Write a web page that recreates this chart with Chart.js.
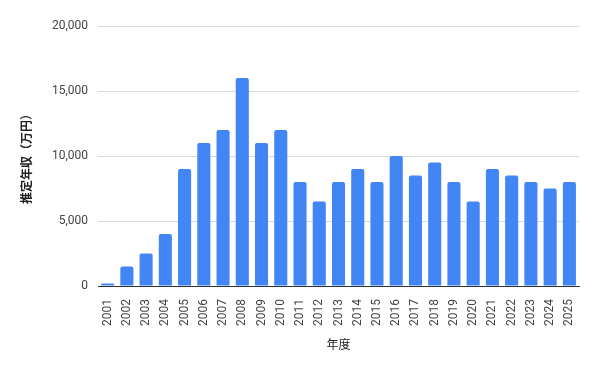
<!DOCTYPE html>
<html>
<head>
<meta charset="utf-8">
<script src="https://cdn.jsdelivr.net/npm/chart.js@4"></script>
<style>
    html, body { margin: 0; padding: 0; background: #fff; }
    #wrap { width: 600px; height: 370px; position: relative; }
</style>
</head>
<body>
<div id="wrap"><canvas id="salaryChart"></canvas></div>
<script>
// 年度ごとの推定年収（万円）
const years = ['2001', '2002', '2003', '2004', '2005', '2006', '2007', '2008', '2009', '2010',
    '2011', '2012', '2013', '2014', '2015', '2016', '2017', '2018', '2019', '2020',
    '2021', '2022', '2023', '2024', '2025'];
const salary = [200, 1500, 2500, 4000, 9000, 11000, 12000, 16000, 11000, 12000,
    8000, 6500, 8000, 9000, 8000, 10000, 8500, 9500, 8000, 6500,
    9000, 8500, 8000, 7500, 8000];
const yTicks = [0, 5000, 10000, 15000, 20000];

const tickFont = { family: 'Roboto, "Noto Sans CJK JP", sans-serif', size: 12 };
const titleFont = { family: 'Roboto, "Noto Sans CJK JP", sans-serif', size: 12 };

const ctx = document.getElementById('salaryChart').getContext('2d');
const chart = new Chart(ctx, {
    type: 'bar',
    data: {
        labels: years,
        datasets: [{
            label: '推定年収（万円）',
            data: salary,
            backgroundColor: '#4285f4',
            borderRadius: 2,
            borderSkipped: 'start',
            categoryPercentage: 1,
            barPercentage: 0.68
        }]
    },
    options: {
        responsive: true,
        maintainAspectRatio: false,
        animation: false,
        layout: {
            padding: { top: 26, right: 21, bottom: 0, left: 0 }
        },
        plugins: {
            legend: { display: false },
            tooltip: { enabled: false }
        },
        scales: {
            x: {
                grid: { display: false },
                border: { color: '#333333', width: 1 },
                ticks: {
                    color: '#444444',
                    font: tickFont,
                    minRotation: 90,
                    maxRotation: 90,
                    autoSkip: false,
                    padding: 5
                },
                title: {
                    display: true,
                    text: '年度',
                    color: '#222222',
                    font: titleFont,
                    padding: { top: 4, bottom: 17 }
                },
                afterFit: scale => { scale.height = 84; }
            },
            y: {
                min: 0,
                max: 20000,
                afterBuildTicks: scale => {
                    scale.ticks = yTicks.map(v => ({ value: v }));
                },
                grid: {
                    color: '#d9d9d9',
                    drawTicks: false
                },
                border: { display: false },
                ticks: {
                    color: '#444444',
                    font: tickFont,
                    padding: 10,
                    callback: v => v.toLocaleString('en-US')
                },
                title: {
                    display: true,
                    text: '推定年収（万円）',
                    color: '#222222',
                    font: { ...titleFont, weight: 'bold' },
                    padding: { top: 21, bottom: 0 }
                },
                afterFit: scale => { scale.width = 98; }
            }
        }
    }
});
</script>
</body>
</html>
